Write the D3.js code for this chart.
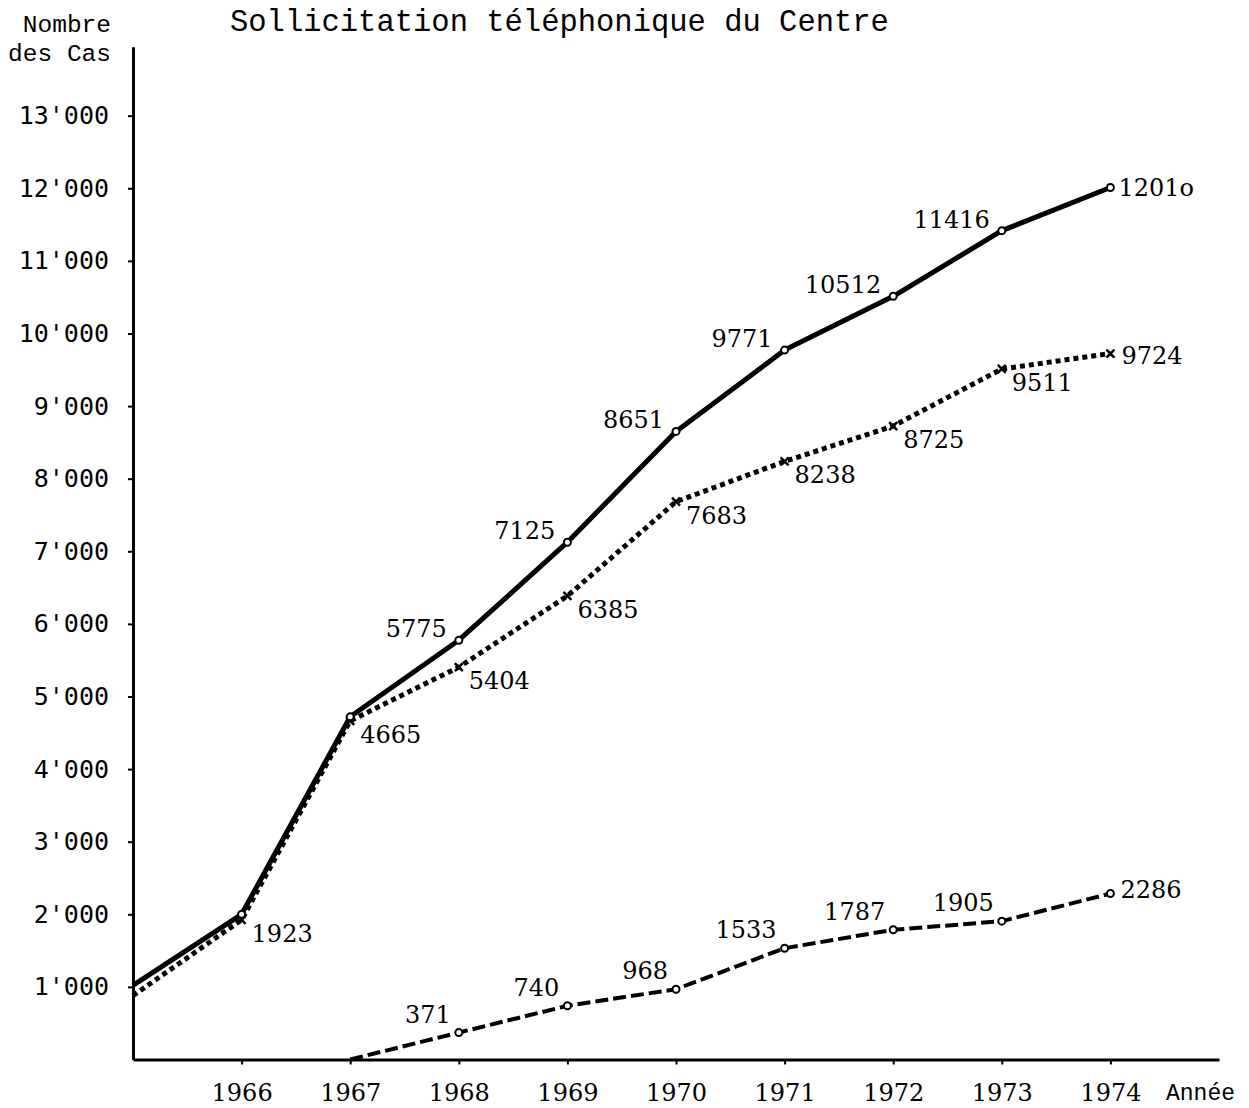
<!DOCTYPE html>
<html>
<head>
<meta charset="utf-8">
<script src="https://cdn.jsdelivr.net/npm/d3@7"></script>
<style>
  body { margin: 0; background: #fff; }
  svg { display: block; }
</style>
</head>
<body>
<div id="chart"></div>
<script>
// Data.
var years        = [1965, 1966, 1967, 1968, 1969, 1970, 1971, 1972, 1973, 1974];
var yearTicks    = [1966, 1967, 1968, 1969, 1970, 1971, 1972, 1973, 1974];
var valueTicks   = [1000, 2000, 3000, 4000, 5000, 6000, 7000, 8000, 9000, 10000, 11000, 12000, 13000];

// Solid line (total), first points are not labelled in the picture.
var totalValues  = [1020, 2000, 4720, 5775, 7125, 8651, 9771, 10512, 11416, 12010];
var totalLabels  = ["", "", "", "5775", "7125", "8651", "9771", "10512", "11416", "1201o"];

// Dotted line with crosses.
var crossValues  = [880, 1923, 4665, 5404, 6385, 7683, 8238, 8725, 9511, 9724];
var crossLabels  = ["", "1923", "4665", "5404", "6385", "7683", "8238", "8725", "9511", "9724"];

// Dashed line, starts in 1967.
var dashYears    = [1967, 1968, 1969, 1970, 1971, 1972, 1973, 1974];
var dashValues   = [0, 371, 740, 968, 1533, 1787, 1905, 2286];
var dashLabels   = ["", "371", "740", "968", "1533", "1787", "1905", "2286"];

var width = 1249, height = 1108;
var monoFont  = "'Liberation Mono', 'DejaVu Sans Mono', monospace";
var tickFont  = "'DejaVu Sans Mono', monospace";
var labelFont = "'DejaVu Serif', serif";

var svg = d3.select("#chart").append("svg")
    .attr("width", width)
    .attr("height", height);

var x = d3.scaleLinear().domain([1965, 1975]).range([133, 1219]);
var y = d3.scaleLinear().domain([0, 13950]).range([1059.5, 46.7]);

/* ---------------------------------------------------------- */
/* Axes                                                       */
/* ---------------------------------------------------------- */
var yAxis = d3.axisLeft(y)
    .tickValues(valueTicks)
    .tickSize(5)
    .tickSizeOuter(0)
    .tickFormat(function(d) { return (d / 1000) + "'000"; });

var gy = svg.append("g")
    .attr("transform", "translate(" + x(1965) + ",0)")
    .call(yAxis);
gy.select(".domain").attr("stroke-width", 3);
gy.selectAll(".tick line").attr("stroke-width", 2);
gy.selectAll(".tick text")
    .attr("x", -24)
    .attr("font-family", tickFont)
    .attr("font-size", 25)
    .attr("fill", "#000");

var xAxis = d3.axisBottom(x)
    .tickValues(yearTicks)
    .tickSize(5)
    .tickSizeOuter(0)
    .tickFormat(d3.format("d"));

var gx = svg.append("g")
    .attr("transform", "translate(0," + y(0) + ")")
    .call(xAxis);
gx.select(".domain").attr("stroke-width", 3);
gx.selectAll(".tick line").attr("stroke-width", 2);
gx.selectAll(".tick text")
    .attr("y", 24)
    .attr("dy", "0.71em")
    .attr("font-family", labelFont)
    .attr("font-size", 24)
    .attr("fill", "#000");

// Titles.
svg.append("text").attr("x", 230).attr("y", 31)
    .attr("font-family", monoFont).attr("font-size", 30.5)
    .text("Sollicitation téléphonique du Centre");
svg.append("text").attr("x", 111).attr("y", 32).attr("text-anchor", "end")
    .attr("font-family", monoFont).attr("font-size", 24.5)
    .text("Nombre");
svg.append("text").attr("x", 111).attr("y", 61).attr("text-anchor", "end")
    .attr("font-family", monoFont).attr("font-size", 24.5)
    .text("des Cas");
svg.append("text").attr("x", 1166).attr("y", 1100)
    .attr("font-family", monoFont).attr("font-size", 23)
    .text("Année");

/* ---------------------------------------------------------- */
/* Series                                                     */
/* ---------------------------------------------------------- */
var line = d3.line()
    .x(function(d) { return x(d[0]); })
    .y(function(d) { return y(d[1]); });

function pairs(xs, vs) {
    return xs.map(function(d, i) { return [d, vs[i]]; });
}

function drawSeries(xs, vs, labels, style) {
    var pts = pairs(xs, vs);
    svg.append("path")
        .datum(pts)
        .attr("fill", "none")
        .attr("stroke", "#000")
        .attr("stroke-width", style.width)
        .attr("stroke-dasharray", style.dash)
        .attr("stroke-linejoin", "round")
        .attr("d", line);

    var marked = pts.filter(function(d, i) { return i >= style.firstMarker; });
    if (style.marker == "circle") {
        svg.selectAll(null).data(marked).enter().append("circle")
            .attr("cx", function(d) { return x(d[0]); })
            .attr("cy", function(d) { return y(d[1]); })
            .attr("r", 3.5)
            .attr("fill", "#fff")
            .attr("stroke", "#000")
            .attr("stroke-width", 2);
    } else {
        svg.selectAll(null).data(marked).enter().append("path")
            .attr("d", function(d) {
                var cx = x(d[0]), cy = y(d[1]), s = 4;
                return "M" + (cx - s) + "," + (cy - s) + "L" + (cx + s) + "," + (cy + s) +
                       "M" + (cx - s) + "," + (cy + s) + "L" + (cx + s) + "," + (cy - s);
            })
            .attr("stroke", "#000")
            .attr("stroke-width", 2.5);
    }

    var last = pts.length - 1;
    svg.selectAll(null).data(pts).enter().append("text")
        .attr("x", function(d, i) { return x(d[0]) + (i == last ? style.lastDx : style.dx); })
        .attr("y", function(d, i) { return y(d[1]) + (i == last ? style.lastDy : style.dy); })
        .attr("text-anchor", function(d, i) { return i == last ? "start" : style.anchor; })
        .attr("font-family", labelFont)
        .attr("font-size", 24)
        .text(function(d, i) { return labels[i]; });
}

drawSeries(dashYears, dashValues, dashLabels, {
    width: 4, dash: "13,5", marker: "circle", firstMarker: 1,
    anchor: "end", dx: -8, dy: -10, lastDx: 10, lastDy: 4
});
drawSeries(years, crossValues, crossLabels, {
    width: 5, dash: "5,4", marker: "cross", firstMarker: 1,
    anchor: "start", dx: 10, dy: 22, lastDx: 11, lastDy: 10
});
drawSeries(years, totalValues, totalLabels, {
    width: 5, dash: null, marker: "circle", firstMarker: 1,
    anchor: "end", dx: -12, dy: -3, lastDx: 8, lastDy: 8
});
</script>
</body>
</html>
